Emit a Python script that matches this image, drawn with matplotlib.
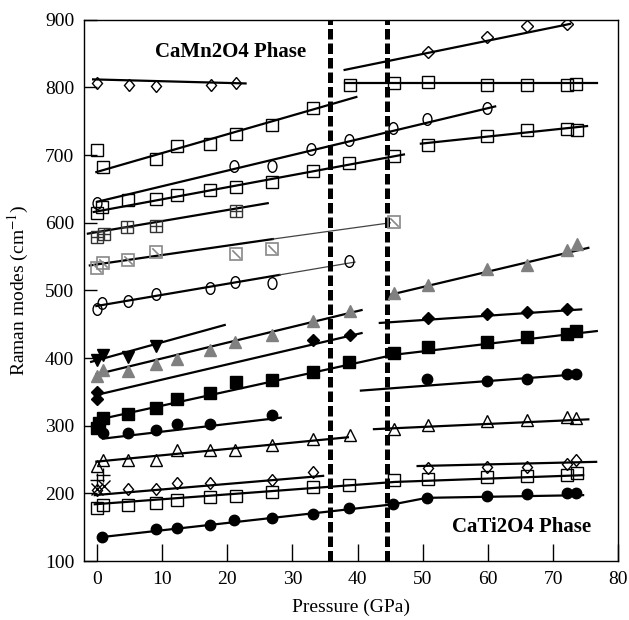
import numpy as np
import matplotlib.pyplot as plt
from matplotlib.markers import MarkerStyle
from matplotlib.path import Path
from matplotlib.transforms import Affine2D

plt.rcParams['font.family'] = ['Liberation Serif', 'DejaVu Serif']
plt.rcParams['mathtext.fontset'] = 'stix'

# phase boundaries (GPa)
boundaries = [35.8, 44.5]

dia_top_x = [0, 4.9, 9.1, 17.5, 21.3]
dia_top_y = [807, 803, 802, 804, 807]
sq700_x = [0, 0.9, 9.1, 12.3, 17.4, 21.3, 26.8, 33.2]
sq700_y = [707, 683, 695, 714, 716, 731, 744, 770]
sq800_x = [38.8, 45.6, 50.8, 59.8, 66.0, 72.2, 73.5]
sq800_y = [803, 807, 808, 803, 803, 803, 805]
dia880_x = [50.8, 59.8, 66.0, 72.2]
dia880_y = [852, 875, 891, 894]
circ700_x = [0, 21.0, 26.8, 32.9, 38.6, 45.5, 50.7, 59.8]
circ700_y = [629, 684, 684, 709, 723, 740, 753, 769]
sq640_x = [0, 0.8, 4.8, 9.1, 12.3, 17.4, 21.3, 26.8, 33.2, 38.7, 45.6]
sq640_y = [614, 623, 633, 635, 641, 648, 653, 660, 677, 688, 699]
sq730_x = [50.8, 59.8, 66.0, 72.2, 73.6]
sq730_y = [715, 728, 737, 739, 737]
xsq_x = [0, 1.0, 4.6, 9.0, 21.3]
xsq_y = [579, 584, 594, 596, 618]
dsq_x = [0, 0.9, 4.8, 9.1, 21.3, 26.8, 45.6]
dsq_y = [533, 540, 545, 557, 554, 562, 601]
circ500_x = [0, 0.8, 4.7, 9.0, 17.3, 21.2, 26.8, 38.7]
circ500_y = [473, 481, 485, 495, 503, 512, 511, 543]
vtri_x = [0, 0.9, 4.8, 9.1]
vtri_y = [397, 404, 402, 418]
gtri_x = [0, 0.9, 4.8, 9.1, 12.3, 17.4, 21.2, 26.8, 33.2, 38.8,
          45.6, 50.8, 59.8, 66.0, 72.2, 73.6]
gtri_y = [374, 383, 381, 392, 398, 412, 424, 434, 455, 470,
          496, 508, 531, 537, 560, 568]
bdia_x = [0, 0, 33.2, 38.9, 50.8, 59.8, 66.0, 72.2]
bdia_y = [340, 350, 427, 434, 460, 465, 468, 473]
bsq_x = [0, 0.3, 0.9, 4.8, 9.1, 12.3, 17.4, 21.3, 26.8, 33.2, 38.7,
         45.6, 50.8, 59.8, 66.0, 72.2, 73.5]
bsq_y = [297, 304, 312, 318, 326, 339, 349, 364, 368, 380, 395,
         408, 417, 424, 431, 436, 440]
bcirc300_x = [0.9, 4.8, 9.1, 12.3, 17.4, 26.8, 50.6, 59.8, 66.0, 72.2, 73.5]
bcirc300_y = [289, 289, 294, 303, 302, 316, 369, 366, 369, 376, 376]
otri_x = [0, 0.9, 4.8, 9.1, 12.3, 17.4, 21.2, 26.8, 33.2, 38.8,
          45.6, 50.8, 59.8, 66.0, 72.2, 73.5]
otri_y = [240, 249, 250, 250, 264, 264, 264, 271, 280, 286,
          295, 301, 307, 308, 313, 311]
plus_x = [0, 0.9]
plus_y = [220, 227]
cross_x = [0, 1.0]
cross_y = [207, 211]
odia_x = [0, 4.8, 9.1, 12.3, 17.4, 26.8, 33.2, 50.8, 59.8, 66.0, 72.2, 73.5]
odia_y = [205, 206, 207, 215, 216, 220, 232, 237, 239, 239, 243, 250]
osq_x = [0, 0.9, 4.8, 9.1, 12.3, 17.4, 21.3, 26.8, 33.2, 38.7,
         45.6, 50.8, 59.8, 66.0, 72.2, 73.6]
osq_y = [178, 183, 183, 186, 191, 195, 196, 202, 209, 213,
         220, 222, 225, 226, 227, 230]
bcirc150_x = [0.8, 9.1, 12.2, 17.3, 21.0, 26.8, 33.2, 38.7,
              45.5, 50.6, 59.8, 66.0, 72.2, 73.5]
bcirc150_y = [136, 148, 149, 153, 161, 163, 170, 178,
              184, 193, 196, 199, 200, 200]

# ---- fitted lines (thick) ----
fits = [
    ([-0.6, 22.8], [812, 806]),
    ([-0.1, 39.8], [675, 786]),
    ([38.0, 76.7], [806.5, 806.5]),
    ([38.0, 72.6], [826, 894]),
    ([0, 61.1], [631, 772]),
    ([-0.5, 47.1], [616, 701]),
    ([49.7, 75.2], [717, 743]),
    ([-1.4, 26.2], [584, 629]),
    ([-1.1, 27.0], [537, 576]),
    ([-0.1, 28.0], [477, 523]),
    ([-0.9, 19.6], [394.5, 449]),
    ([-0.1, 40.6], [376, 471]),
    ([44.7, 75.4], [493, 563]),
    ([-0.35, 40.6], [345, 437]),
    ([43.4, 74.3], [452, 472]),
    ([0.15, 45.6, 76.7], [309, 405, 440]),
    ([0.9, 28.2], [281, 312]),
    ([40.5, 73.6], [352, 376]),
    ([-0.1, 38.5], [247, 283]),
    ([42.5, 75.4], [295, 309.5]),
    ([-0.35, 34.7], [197.5, 226]),
    ([49.2, 76.6], [240.5, 246.7]),
    ([-0.35, 45.7, 74.6], [184, 217, 227]),
    ([0.8, 45.5, 50.6, 74.6], [135.6, 184, 193.5, 197.5]),
]
# thin continuations
thin_fits = [
    ([27.0, 45.0], [576, 600]),
    ([28.0, 39.6], [523, 542]),
]

fig = plt.figure(figsize=(6.29, 6.20), dpi=100)
ax = fig.add_axes([0.1335, 0.095, 0.8495, 0.873])

for xs, ys in fits:
    ax.plot(xs, ys, color='black', lw=1.6, zorder=2)
for xs, ys in thin_fits:
    ax.plot(xs, ys, color='#444444', lw=0.9, zorder=2)

for b in boundaries:
    ax.axvline(b, color='black', lw=3.6, dashes=(2.1, 0.8), zorder=3)

tall = MarkerStyle('o', transform=Affine2D().scale(0.8, 1.05))
diamond = MarkerStyle('D', transform=Affine2D().scale(0.9, 1.0))
diag = Path([(-1, 1), (1, -1)], [Path.MOVETO, Path.LINETO])

op = dict(ls='none', mfc='none', mec='black', mew=1.0, zorder=4)
ax.plot(dia_top_x, dia_top_y, marker=diamond, ms=6, **op)
ax.plot(dia880_x, dia880_y, marker=diamond, ms=6.3, **op)
ax.plot(odia_x, odia_y, marker=diamond, ms=5.8, **op)
for xs, ys in [(sq700_x, sq700_y), (sq800_x, sq800_y), (sq640_x, sq640_y),
               (sq730_x, sq730_y), (osq_x, osq_y)]:
    ax.plot(xs, ys, marker='s', ms=8.5, **op)
ax.plot(circ700_x, circ700_y, marker=tall, ms=8, **op)
ax.plot(circ500_x, circ500_y, marker=tall, ms=8, **op)
ax.plot(otri_x, otri_y, marker='^', ms=9, **op)
ax.plot(plus_x, plus_y, marker='+', ms=10, ls='none', color='black', mew=1.0)
ax.plot(cross_x, cross_y, marker='x', ms=9, ls='none', color='black', mew=1.0)

ax.plot(xsq_x, xsq_y, marker='s', ms=8.5, ls='none', mfc='none',
        mec='#333333', mew=1.0, zorder=4)
ax.plot(xsq_x, xsq_y, marker='+', ms=8.5, ls='none', color='#333333',
        mew=1.0, zorder=4)
ax.plot(dsq_x, dsq_y, marker='s', ms=8.5, ls='none', mfc='none',
        mec='#888888', mew=1.2, zorder=4)
ax.plot(dsq_x, dsq_y, marker=diag, ms=6, ls='none', color='#888888',
        mew=1.2, zorder=4)

ax.plot(vtri_x, vtri_y, marker='v', ms=9, ls='none', color='black', zorder=4)
ax.plot(gtri_x, gtri_y, marker='^', ms=9, ls='none', color='#808080', zorder=4)
ax.plot(bdia_x, bdia_y, marker=diamond, ms=6.5, ls='none', color='black', zorder=4)
ax.plot(bsq_x, bsq_y, marker='s', ms=9, ls='none', color='black', zorder=4)
ax.plot(bcirc300_x, bcirc300_y, marker='o', ms=7.5, ls='none', color='black', zorder=4)
ax.plot(bcirc150_x, bcirc150_y, marker='o', ms=7.5, ls='none', color='black', zorder=4)

ax.text(20.5, 852, 'CaMn2O4 Phase', fontsize=15, fontweight='bold',
        ha='center', va='center')
ax.text(65.2, 151, 'CaTi2O4 Phase', fontsize=15, fontweight='bold',
        ha='center', va='center')

ax.set_xlim(-2, 80)
ax.set_ylim(100, 900)
ax.set_xticks(np.arange(0, 81, 10))
ax.set_yticks(np.arange(100, 901, 100))
ax.tick_params(axis='x', direction='in', length=12, width=1, labelsize=14, pad=7)
ax.tick_params(axis='y', direction='in', length=9, width=1, labelsize=14, pad=7)
for sp in ax.spines.values():
    sp.set_linewidth(1.0)
ax.set_xlabel('Pressure (GPa)', fontsize=14, labelpad=8)
ax.set_ylabel('Raman modes (cm$^{-1}$)', fontsize=14, labelpad=10)

fig.savefig('out.png', dpi=100)
